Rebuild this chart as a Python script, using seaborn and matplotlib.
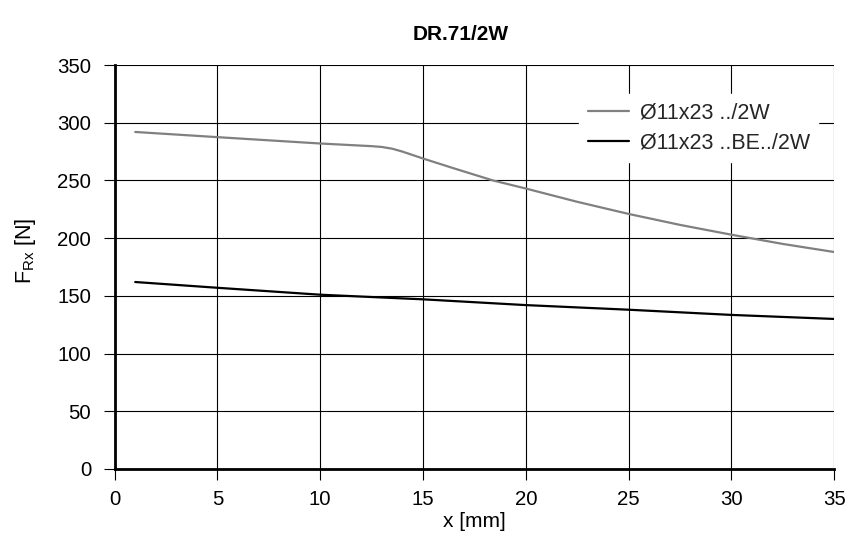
import matplotlib
matplotlib.use("Agg")
import matplotlib.pyplot as plt
import seaborn as sns
import pandas as pd

# Radial load curves for DR.71/2W
x_std = [1, 5, 10, 12.5, 13, 13.5, 14, 15, 16.5, 18.4, 20, 22.5, 25, 27.5, 30, 32.5, 35]
f_std = [292, 287.5, 282, 279.7, 279, 277.5, 275, 269, 260.5, 250, 243, 231.5, 221, 211.5, 203, 195, 188]
x_be = [1, 5, 10, 15, 20, 25, 30, 35]
f_be = [162, 157, 151, 147, 142, 138, 133.5, 130]
labels = ["Ø11x23 ../2W", "Ø11x23 ..BE../2W"]
colors = ["#808080", "#000000"]

x_ticks = [0, 5, 10, 15, 20, 25, 30, 35]
y_ticks = [0, 50, 100, 150, 200, 250, 300, 350]

df = pd.concat([
    pd.DataFrame({"x": x_std, "F": f_std, "series": labels[0]}),
    pd.DataFrame({"x": x_be, "F": f_be, "series": labels[1]}),
])

sns.set_theme(style="white")
plt.rcParams["font.family"] = ["Liberation Sans", "DejaVu Sans"]

fig = plt.figure(figsize=(8.52, 5.36), dpi=100)
ax = fig.add_axes([0.1346, 0.125, 0.8444, 0.7537])

sns.lineplot(data=df, x="x", y="F", hue="series", palette=colors,
             linewidth=1.6, ax=ax, sort=False)

ax.set_xlim(0, 35)
ax.set_ylim(0, 350)
ax.set_xticks(x_ticks)
ax.set_yticks(y_ticks)
ax.grid(True, color="black", linewidth=0.8)
ax.set_axisbelow(True)
for s in ["top", "right"]:
    ax.spines[s].set_visible(False)
for s in ["left", "bottom"]:
    ax.spines[s].set_color("black")
    ax.spines[s].set_linewidth(2)
ax.tick_params(axis="both", direction="out", length=8, width=0.8,
               color="black", labelsize=14.7, labelcolor="black",
               left=True, bottom=True)
ax.tick_params(axis="x", pad=7)
ax.tick_params(axis="y", pad=9)

ax.set_xlabel("x [mm]", fontsize=15, color="black", labelpad=2)
ax.set_ylabel(r"F$_{\mathregular{Rx}}$ [N]", fontsize=15.5, color="black")
ax.yaxis.set_label_coords(-0.106, 0.541)
ax.set_title("DR.71/2W", fontsize=15, fontweight="bold", color="black", pad=18, x=0.481)

leg = ax.legend(loc="upper right", bbox_to_anchor=(0.978, 0.928), borderaxespad=0,
                frameon=True, fontsize=15.5, handlelength=1.9, handletextpad=0.5,
                borderpad=0.4, labelspacing=0.4)
leg.get_frame().set_facecolor("white")
leg.get_frame().set_edgecolor("white")
leg.get_frame().set_alpha(1)
leg.get_frame().set_boxstyle("square", pad=0)

fig.savefig("out.png", dpi=100)
